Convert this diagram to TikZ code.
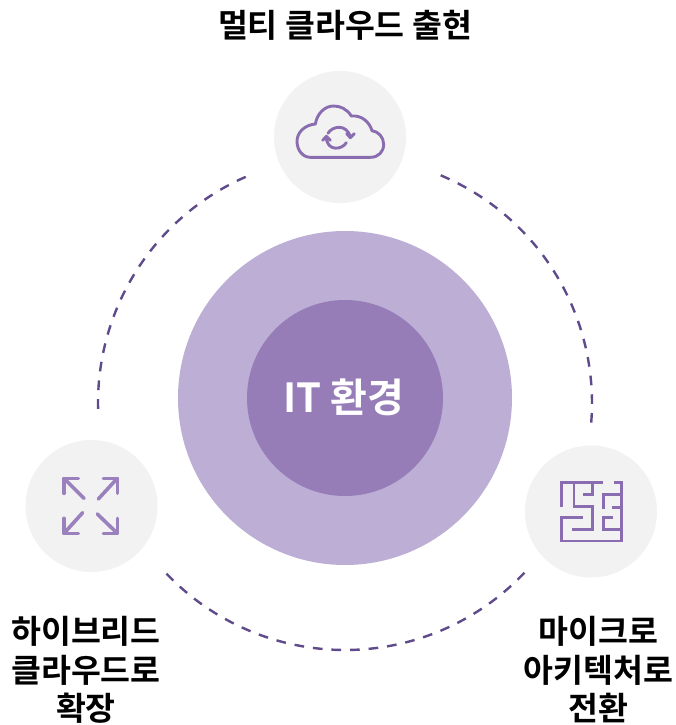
\documentclass[tikz,border=0pt]{standalone}
\usepackage{fontspec}
\setmainfont{Noto Sans CJK KR}[BoldFont={* Bold}]
\definecolor{outerc}{HTML}{BCAED4}
\definecolor{innerc}{HTML}{967DB8}
\definecolor{greyc}{HTML}{F2F2F2}
\definecolor{dashc}{HTML}{5F4A8B}
\definecolor{iconc}{HTML}{9A80BC}
\definecolor{linec}{HTML}{8A6DB0}
\tikzset{
  disc/.style={circle,fill=greyc,minimum size=132pt,inner sep=0pt},
  lbl/.style={font=\bfseries\fontsize{32.5}{38.5}\selectfont,align=center,text=black,inner sep=0pt},
  ring/.style={draw=dashc,line width=2.4pt,dash pattern=on 9.7pt off #1pt},
  iconline/.style={draw=linec,line width=2.9pt,line cap=round,line join=round},
  iconthick/.style={draw=iconc,line width=3.6pt,line cap=round,line join=round},
}
\begin{document}
\begin{tikzpicture}[x=1pt,y=1pt,yscale=-1]
\useasboundingbox (0,0) rectangle (675,725);
\fill[white] (0,0) rectangle (675,725);
\coordinate (c) at (345,403);
\draw[ring=9.03] (c) ++(-67.2:247pt) arc[start angle=-67.2,end angle=4.6,radius=247pt];
\draw[ring=9.1] (c) ++(-113.7:247pt) arc[start angle=-113.7,end angle=-181.4,radius=247pt];
\draw[ring=8.9] (c) ++(136.3:247pt) arc[start angle=136.3,end angle=43.4,radius=247pt];
\node[circle,fill=outerc,minimum size=334pt,inner sep=0pt] (outer) at (345,398) {};
\node[circle,fill=innerc,minimum size=196pt,inner sep=0pt] (inner) at (345,398) {};
\node[lbl,text=white,font=\bfseries\fontsize{40}{44}\selectfont] (it) at (344,397) {IT 환경};
\node[disc] (top) at (340,137) {};
\node[disc] (left) at (91.5,506) {};
\node[disc] (right) at (591,511.5) {};
\node[lbl] (toplabel) at (345,25) {멀티 클라우드 출현};
\node[lbl] (leftlabel) at (86,670) {하이브리드\\클라우드로\\확장};
\node[lbl] (rightlabel) at (598.5,670) {마이크로\\아키텍처로\\전환};
% cloud icon
\begin{scope}[shift={(292,100)},x=0.3333pt,y=0.3333pt]
\draw[iconline] (55,172) -- (235,172)
  .. controls (260,172) and (275,155) .. (275,133)
  .. controls (275,112) and (260,95) .. (240,92)
  .. controls (232,65) and (208,45) .. (178,48)
  .. controls (165,27) and (145,18) .. (125,18)
  .. controls (97,18) and (75,42) .. (70,72)
  .. controls (38,75) and (15,97) .. (15,124)
  .. controls (15,150) and (32,172) .. (55,172);
\draw[iconline] (108,100) .. controls (120,78) and (165,70) .. (175,112);
\draw[iconline] (163,128) .. controls (150,150) and (105,155) .. (103,112);
\draw[iconline] (164,101) -- (175,113) -- (187,101);
\draw[iconline] (92,121) -- (103,109) -- (115,121);
\end{scope}
% expand icon
\begin{scope}[shift={(20,435)},x=0.3333pt,y=0.3333pt]
\draw[iconthick] (192,190) -- (132,130);
\draw[iconthick] (132,175) -- (132,130) -- (175,130);
\draw[iconthick] (235,192) -- (292,130);
\draw[iconthick] (250,130) -- (292,130) -- (292,175);
\draw[iconthick] (188,233) -- (132,295);
\draw[iconthick] (132,250) -- (132,295) -- (175,295);
\draw[iconthick] (232,237) -- (292,295);
\draw[iconthick] (250,295) -- (292,295) -- (292,250);
\end{scope}
% maze icon
\begin{scope}[shift={(555,475)},x=0.3333pt,y=0.3333pt]
\draw[iconline,line cap=butt,line join=miter] (20,97) -- (20,22) -- (145,22);
\draw[iconline,line cap=butt,line join=miter] (57,22) -- (57,95) -- (112,95) -- (112,163) -- (50,163);
\draw[iconline,line cap=butt,line join=miter] (85,58) -- (112,58) -- (112,22);
\draw[iconline,line cap=butt,line join=miter] (178,22) -- (200,22) -- (200,198) -- (20,198) -- (20,128) -- (85,128);
\draw[iconline,line cap=butt,line join=miter] (145,102) -- (145,58) -- (200,58);
\draw[iconline,line cap=butt,line join=miter] (172,97) -- (200,97);
\draw[iconline,line cap=butt,line join=miter] (175,128) -- (145,128) -- (145,163) -- (200,163);
\end{scope}
\end{tikzpicture}
\end{document}
